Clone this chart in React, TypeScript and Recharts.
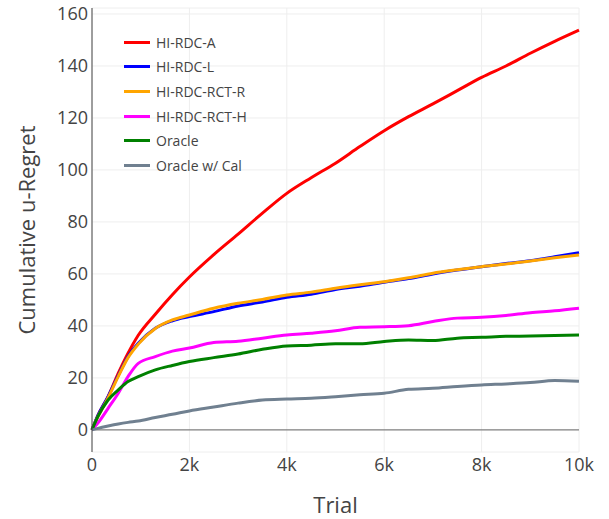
import React from 'react';
import {
    LineChart, Line, XAxis, YAxis, CartesianGrid, ReferenceLine,
} from 'recharts';

// trial index (x)
const trials = [0, 120, 330, 540, 740, 950, 1300, 1650, 2000, 2500, 3000, 3500, 4000, 4500, 5000, 5500, 6000, 6500, 7000, 7500, 8000, 8500, 9000, 9500, 10000];

const hiRdcA = [0, 5.5, 12.8, 21.8, 29.5, 36.4, 44.5, 52, 58.8, 67.4, 75.3, 83.4, 91, 97, 102.6, 109, 115.1, 120.5, 125.4, 130.5, 135.6, 140, 144.9, 149.5, 153.8];
const hiRdcL = [0, 5.5, 12.8, 21, 28.2, 33.3, 39.1, 42, 43.6, 45.5, 47.7, 49.2, 51, 52.2, 54, 55.3, 56.8, 58.2, 60, 61.5, 62.8, 64, 65.1, 66.6, 68.2];
const hiRdcRctR = [0, 5, 12.3, 20.6, 27.8, 33, 39, 42.3, 44.2, 46.8, 48.7, 50.2, 51.9, 53, 54.5, 55.8, 57, 58.5, 60.3, 61.6, 62.8, 63.8, 65, 66.2, 67.3];
const hiRdcRctH = [0, 2.6, 8.3, 14.1, 20.5, 25.6, 28.2, 30.3, 31.5, 33.6, 34.1, 35.3, 36.5, 37.2, 38.1, 39.5, 39.7, 40.1, 41.7, 43, 43.3, 44, 45.1, 45.8, 46.8];
const oracle = [0, 5.1, 11.5, 15.4, 18.6, 20.5, 23.1, 24.8, 26.3, 27.8, 29.2, 31, 32.3, 32.6, 33.1, 33.1, 34, 34.6, 34.4, 35.3, 35.6, 36, 36.1, 36.3, 36.5];
const oracleCal = [0, 0.6, 1.5, 2.3, 2.9, 3.4, 4.8, 6, 7.3, 8.8, 10.3, 11.5, 11.9, 12.2, 12.8, 13.5, 14.1, 15.6, 16, 16.7, 17.3, 17.7, 18.2, 19, 18.7];

const xTicks = [0, 2000, 4000, 6000, 8000, 10000];
const yTicks = [0, 20, 40, 60, 80, 100, 120, 140, 160];

const series = [
    { key: 'a', name: 'HI-RDC-A', color: '#ff0000', values: hiRdcA },
    { key: 'l', name: 'HI-RDC-L', color: '#0000ff', values: hiRdcL },
    { key: 'r', name: 'HI-RDC-RCT-R', color: '#ffa500', values: hiRdcRctR },
    { key: 'h', name: 'HI-RDC-RCT-H', color: '#ff00ff', values: hiRdcRctH },
    { key: 'o', name: 'Oracle', color: '#008000', values: oracle },
    { key: 'c', name: 'Oracle w/ Cal', color: '#708090', values: oracleCal },
];

const data = trials.map((t, i) => {
    const row: Record<string, number> = { trial: t };
    series.forEach((s) => { row[s.key] = s.values[i]; });
    return row;
});

const FONT = '"Open Sans", "DejaVu Sans", sans-serif';
const TEXT = '#444';

function LegendBox() {
    return (
        <div style={{ position: 'absolute', left: 124, top: 30, fontFamily: FONT, fontSize: 14, color: TEXT }}>
            {series.map((s) => (
                <div key={s.key} style={{ display: 'flex', alignItems: 'center', height: 24.6 }}>
                    <span style={{ display: 'inline-block', width: 26, height: 3, background: s.color, marginRight: 6 }} />
                    <span>{s.name}</span>
                </div>
            ))}
        </div>
    );
}

export default function App() {
    return (
        <div style={{ position: 'absolute', left: 0, top: 0, width: 609, height: 519, background: '#fff' }}>
            <LineChart
                width={609}
                height={519}
                data={data}
                margin={{ top: 8, right: 30, left: 32, bottom: 37 }}
            >
                <CartesianGrid stroke="#eeeeee" strokeWidth={1} />
                <XAxis
                    dataKey="trial"
                    type="number"
                    domain={[0, 10000]}
                    ticks={xTicks}
                    tickFormatter={(v) => (v === 0 ? '0' : `${v / 1000}k`)}
                    axisLine={false}
                    tickLine={false}
                    tickSize={4}
                    height={30}
                    tick={{ fontSize: 18, fill: TEXT, fontFamily: FONT }}
                    label={{ value: 'Trial', position: 'insideBottom', offset: -31, fontSize: 22, fill: TEXT, fontFamily: FONT }}
                />
                <YAxis
                    type="number"
                    domain={[-8.5, 162.3]}
                    ticks={yTicks}
                    allowDataOverflow
                    width={60}
                    axisLine={{ stroke: TEXT, strokeWidth: 1 }}
                    tickLine={false}
                    tickSize={2}
                    tick={{ fontSize: 18, fill: TEXT, fontFamily: FONT }}
                    label={{ value: 'Cumulative u-Regret', angle: -90, position: 'insideLeft', offset: -5, fontSize: 22, fill: TEXT, fontFamily: FONT, style: { textAnchor: 'middle' } }}
                />
                <ReferenceLine y={0} stroke="#444" strokeWidth={1} strokeOpacity={0.8} />
                {series.map((s) => (
                    <Line
                        key={s.key}
                        dataKey={s.key}
                        name={s.name}
                        type="monotone"
                        stroke={s.color}
                        strokeWidth={3}
                        dot={false}
                        isAnimationActive={false}
                    />
                ))}
            </LineChart>
            <LegendBox />
        </div>
    );
}
